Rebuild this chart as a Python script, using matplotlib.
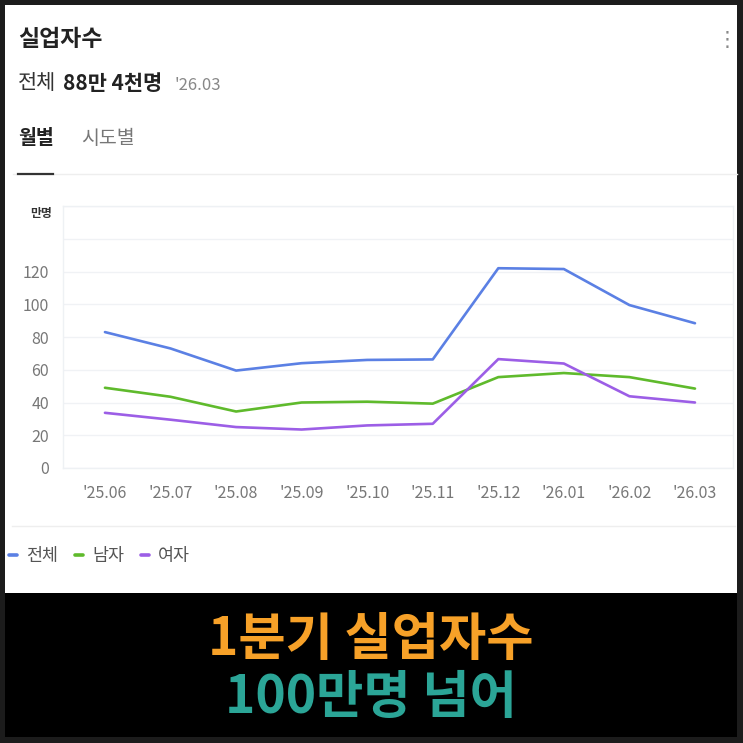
import matplotlib
matplotlib.use("Agg")
import matplotlib.pyplot as plt
from matplotlib.patches import Rectangle
from matplotlib.lines import Line2D

plt.rcParams['font.family'] = ['Noto Sans CJK KR', 'DejaVu Sans']

# data (만명)
months = ["'25.06", "'25.07", "'25.08", "'25.09", "'25.10",
          "'25.11", "'25.12", "'26.01", "'26.02", "'26.03"]
total = [83, 73, 59.5, 64, 66, 66.3, 122, 121.5, 99.5, 88.4]
male = [49, 43.5, 34.5, 40, 40.5, 39.3, 55.5, 58, 55.5, 48.5]
female = [33.7, 29.5, 25, 23.5, 26, 27, 66.5, 63.8, 43.8, 40]
series_names = ['전체', '남자', '여자']
series_colors = ['#5b80e4', '#5fba2c', '#9c5ee6']
y_ticks = [0, 20, 40, 60, 80, 100, 120]

W = H = 743


def fx(px):
    return px / W


def fy(py):
    return 1 - py / H


fig = plt.figure(figsize=(7.43, 7.43), dpi=100, facecolor='#1c1c1c')

# white card and black banner
fig.add_artist(Rectangle((fx(5), fy(593)), fx(732), 588 / H, transform=fig.transFigure,
                         facecolor='white', edgecolor='none', zorder=0))
fig.add_artist(Rectangle((fx(5), fy(737)), fx(732), 144 / H, transform=fig.transFigure,
                         facecolor='black', edgecolor='none', zorder=0))

# header texts
fig.text(fx(18), fy(40), '실업자수', fontsize=16.5, fontweight='bold', color='#222222', va='center')
fig.text(fx(18), fy(83), '전체', fontsize=15, color='#333333', va='center')
fig.text(fx(63), fy(83), '88만 4천명', fontsize=15, fontweight='bold', color='#222222', va='center')
fig.text(fx(175), fy(85), "'26.03", fontsize=12, color='#888888', va='center')
fig.text(fx(727), fy(40), '⋮', fontsize=15, color='#888888', va='center', ha='center',
         family=['DejaVu Sans'])

# tabs
fig.text(fx(18), fy(138), '월별', fontsize=14, fontweight='bold', color='#222222', va='center')
fig.text(fx(81), fy(138), '시도별', fontsize=14, color='#777777', va='center')
fig.add_artist(Line2D([fx(13), fx(737)], [fy(174), fy(174)], transform=fig.transFigure,
                      color='#eeeeee', lw=1))
fig.add_artist(Line2D([fx(18), fx(53)], [fy(173.5), fy(173.5)], transform=fig.transFigure,
                      color='#333333', lw=1.6))
fig.add_artist(Line2D([fx(12), fx(735)], [fy(526), fy(526)], transform=fig.transFigure,
                      color='#eeeeee', lw=1))

# chart
ax = fig.add_axes([fx(63), fy(468), 670 / W, (468 - 206) / H])
ax.set_facecolor('white')
x = list(range(len(months)))
lines = []
for vals, name, col in zip([total, male, female], series_names, series_colors):
    ln, = ax.plot(x, vals, color=col, lw=1.9, label=name, solid_capstyle='round')
    lines.append(ln)

ax.set_xlim(-0.64, 9.58)
ax.set_ylim(0, 160)
ax.set_yticks(y_ticks)
ax.set_yticks([140, 160], minor=True)
ax.set_xticks(x)
ax.set_xticklabels(months)
ax.grid(True, axis='y', which='both', color='#f0f2f5', lw=1)
ax.set_axisbelow(True)
for sp in ax.spines.values():
    sp.set_color('#eef1f4')
    sp.set_linewidth(1)
ax.tick_params(axis='both', which='both', length=0, labelsize=11.5, colors='#777777')
ax.tick_params(axis='y', pad=10)
ax.tick_params(axis='x', pad=12)
fig.text(fx(52), fy(213), '만명', fontsize=8.5, fontweight='bold', color='#333333',
         va='center', ha='right')

# legend
leg = fig.legend(handles=lines, labels=series_names, loc='center left',
                 bbox_to_anchor=(fx(9), fy(556)), ncol=3, frameon=False,
                 handlelength=0.45, handletextpad=0.55, columnspacing=0.95,
                 borderpad=0, borderaxespad=0, fontsize=12.5, labelcolor='#555555')
for h in leg.legend_handles:
    h.set_linewidth(2.6)

# banner text
fig.text(fx(371), fy(639), '1분기 실업자수', fontsize=37, fontweight='black',
         color='#f7a128', ha='center', va='center')
fig.text(fx(371), fy(698), '100만명 넘어', fontsize=37, fontweight='black',
         color='#2ba597', ha='center', va='center')

fig.savefig('out.png', dpi=100, facecolor=fig.get_facecolor())
